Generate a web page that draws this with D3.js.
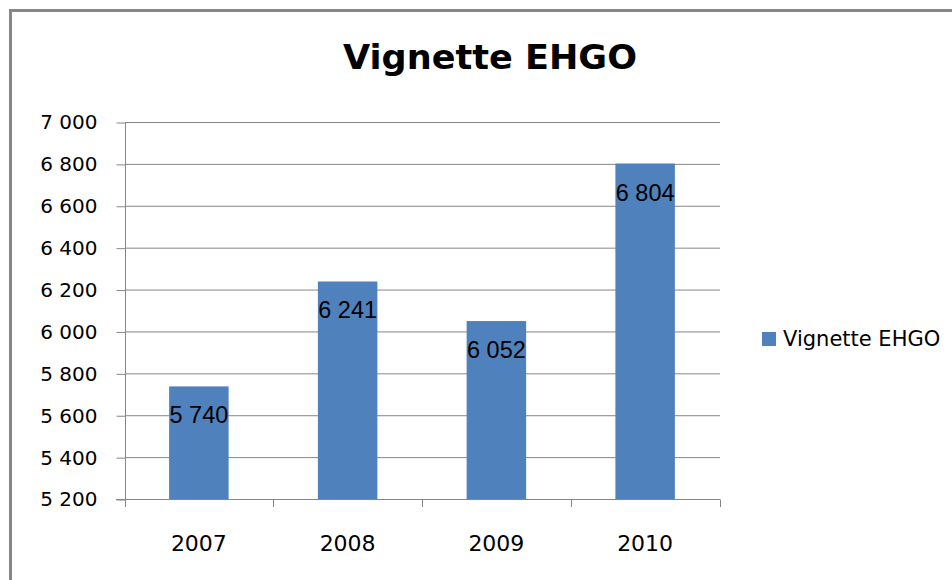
<!DOCTYPE html>
<html>
<head>
<meta charset="utf-8">
<script src="https://cdn.jsdelivr.net/npm/d3@7"></script>
<style>
  html, body { margin: 0; padding: 0; background: #fff; }
  svg { display: block; }
</style>
</head>
<body>
<script>
//---------------------------------- data
var titre = "Vignette EHGO";
var serie = "Vignette EHGO";
var annees = ["2007", "2008", "2009", "2010"];
var valeurs = [5740, 6241, 6052, 6804];
var ticksY = [5200, 5400, 5600, 5800, 6000, 6200, 6400, 6600, 6800, 7000];
//----------------------------------

var ancho = 952, alto = 580;
var bleu = "#4F81BD", gris = "#868686";

var fr = d3.formatLocale({decimal: ",", thousands: " ", grouping: [3], currency: ["", " €"]});
var fmt = fr.format(",d");

var svg = d3.select("body").append("svg")
    .attr("width", ancho)
    .attr("height", alto);

svg.append("rect")
    .attr("width", ancho).attr("height", alto)
    .attr("fill", "#fff");

// cadre
svg.append("rect")
    .attr("x", 10.5).attr("y", 10.5)
    .attr("width", 1000).attr("height", 1000)
    .attr("fill", "none")
    .attr("stroke", "#878787")
    .attr("stroke-width", 3);

var x = d3.scaleBand()
    .domain(annees)
    .range([124.5, 719.5])
    .paddingInner(0.6)
    .paddingOuter(0.3);

var y = d3.scaleLinear()
    .domain([5200, 7000])
    .range([499.5, 122.5]);

// titre
svg.append("text")
    .attr("x", 490).attr("y", 69)
    .attr("text-anchor", "middle")
    .attr("font-family", "DejaVu Sans")
    .attr("font-weight", "bold")
    .attr("font-size", 33)
    .attr("textLength", 294)
    .attr("lengthAdjust", "spacingAndGlyphs")
    .attr("fill", "#000")
    .text(titre);

// grille
svg.append("g")
    .selectAll("line")
    .data(ticksY)
    .enter().append("line")
    .attr("x1", 125).attr("x2", 720)
    .attr("y1", function (d) { return y(d); })
    .attr("y2", function (d) { return y(d); })
    .attr("stroke", gris)
    .attr("stroke-width", 1);

// axe Y
var axeY = svg.append("g")
    .attr("transform", "translate(125.5,0)")
    .call(d3.axisLeft(y).tickValues(ticksY).tickFormat(fmt).tickSize(9).tickPadding(19).tickSizeOuter(0));
axeY.select(".domain").attr("stroke", gris).attr("d", "M0,122V507");
axeY.selectAll(".tick line").attr("stroke", gris);
axeY.selectAll(".tick text")
    .attr("font-family", "DejaVu Sans")
    .attr("font-size", 20)
    .attr("fill", "#000");

// barres
svg.append("g")
    .selectAll("rect")
    .data(valeurs)
    .enter().append("rect")
    .attr("x", function (d, i) { return x(annees[i]); })
    .attr("width", x.bandwidth())
    .attr("y", function (d) { return y(d); })
    .attr("height", function (d) { return y(5200) - y(d); })
    .attr("fill", bleu);

// axe X
var limites = d3.range(annees.length + 1).map(function (i) {
    return x.range()[0] + i * x.step();
});
svg.append("line")
    .attr("x1", 116).attr("x2", 720)
    .attr("y1", 499.5).attr("y2", 499.5)
    .attr("stroke", gris);
svg.append("g")
    .selectAll("line")
    .data(limites)
    .enter().append("line")
    .attr("x1", function (d) { return Math.round(d) + 0.5; })
    .attr("x2", function (d) { return Math.round(d) + 0.5; })
    .attr("y1", 499.5).attr("y2", 507)
    .attr("stroke", gris);

svg.append("g")
    .selectAll("text")
    .data(annees)
    .enter().append("text")
    .attr("x", function (d) { return x(d) + x.bandwidth() / 2; })
    .attr("y", 551)
    .attr("text-anchor", "middle")
    .attr("font-family", "DejaVu Sans")
    .attr("font-size", 22)
    .attr("fill", "#000")
    .text(function (d) { return d; });

// etiquettes
svg.append("g")
    .selectAll("text")
    .data(valeurs)
    .enter().append("text")
    .attr("x", function (d, i) { return x(annees[i]) + x.bandwidth() / 2; })
    .attr("y", function (d) { return y(d) + 37; })
    .attr("text-anchor", "middle")
    .attr("font-family", "Liberation Sans")
    .attr("font-size", 23.5)
    .attr("fill", "#000")
    .text(function (d) { return fmt(d); });

// legende
svg.append("rect")
    .attr("x", 762).attr("y", 332)
    .attr("width", 14).attr("height", 14)
    .attr("fill", bleu);
svg.append("text")
    .attr("x", 783).attr("y", 346)
    .attr("font-family", "DejaVu Sans")
    .attr("font-size", 21)
    .attr("fill", "#000")
    .text(serie);
</script>
</body>
</html>
